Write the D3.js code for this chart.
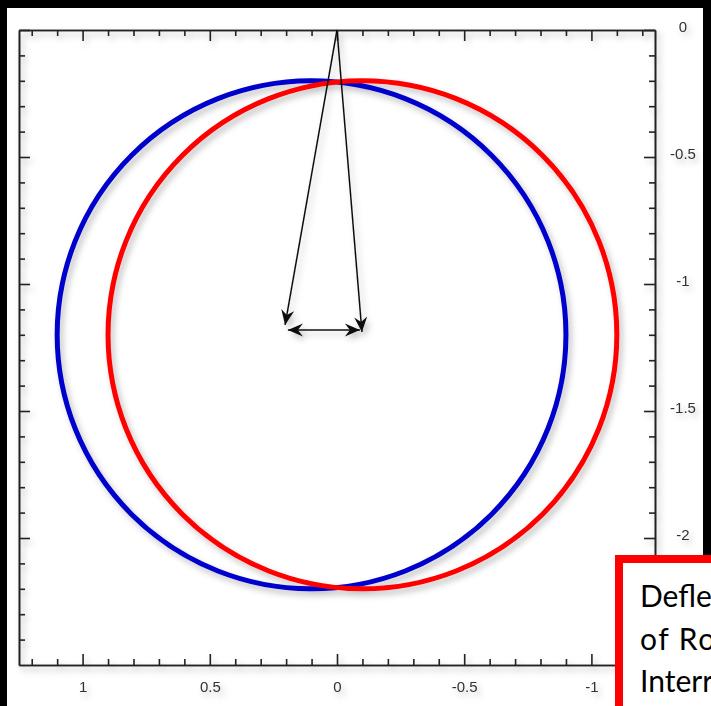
<!DOCTYPE html>
<html>
<head>
<meta charset="utf-8">
<script src="https://cdn.jsdelivr.net/npm/d3@7"></script>
<style>
    html, body { margin: 0; padding: 0; background: #000; }
    svg { display: block; }
</style>
</head>
<body>
<div id="chart"></div>
<script>
// tick labels
const xTickValues = [1, 0.5, 0, -0.5, -1];
const yTickValues = [0, -0.5, -1, -1.5, -2];

// circles: centre x, centre y, radius
const circleNames = ["blue", "red"];
const circleCx = [0.1, -0.1];
const circleCy = [-1.2, -1.2];
const circleR = [1.0, 1.0];

// arrows: start and end points
const arrowX1 = [0, 0, 0.193];
const arrowY1 = [0, 0, -1.181];
const arrowX2 = [0.204, -0.098, -0.09];
const arrowY2 = [-1.161, -1.189, -1.181];
const arrowBoth = [false, false, true];

// note box text, as far as it shows before the page edge
const boxLines = ["Defle", "of Ro", "Interr"];

const width = 711, height = 706;

const svg = d3.select("#chart")
    .append("svg")
    .attr("width", width)
    .attr("height", height);

const defs = svg.append("defs");
const shadow = defs.append("filter")
    .attr("id", "shadow")
    .attr("x", "-10%").attr("y", "-10%")
    .attr("width", "120%").attr("height", "120%");
shadow.append("feDropShadow")
    .attr("dx", 3).attr("dy", 4)
    .attr("stdDeviation", 3)
    .attr("flood-color", "#000")
    .attr("flood-opacity", 0.25);

defs.append("marker")
    .attr("id", "head")
    .attr("viewBox", "-16 -8 18 16")
    .attr("refX", 0).attr("refY", 0)
    .attr("markerWidth", 18).attr("markerHeight", 16)
    .attr("markerUnits", "userSpaceOnUse")
    .attr("orient", "auto-start-reverse")
    .append("path")
    .attr("d", "M0,0 L-15,-6.5 L-10,0 L-15,6.5 Z")
    .attr("fill", "#111");

// background + panel
svg.append("rect").attr("width", width).attr("height", height).attr("fill", "#000");
svg.append("rect")
    .attr("x", 7).attr("y", 8)
    .attr("width", 696).attr("height", 700)
    .attr("fill", "#fff");

const x = d3.scaleLinear().domain([1.25, -1.25]).range([19, 655]);
const y = d3.scaleLinear().domain([0, -2.5]).range([30, 665]);

const xMinor = d3.range(-12, 13).map(d => d / 10).filter(d => Math.abs(d * 2 - Math.round(d * 2)) > 1e-6);
const yMinor = d3.range(-24, 0).map(d => d / 10).filter(d => Math.abs(d * 2 - Math.round(d * 2)) > 1e-6);

const plot = svg.append("g").attr("filter", "url(#shadow)");

function styleAxis(g) {
    g.attr("font-size", null).attr("font-family", null);
    g.select(".domain").attr("stroke", "#222").attr("stroke-width", 1.6);
    g.selectAll(".tick line").attr("stroke", "#222").attr("stroke-width", 1.6);
    g.selectAll("text")
        .attr("fill", "#333")
        .attr("font-family", "'Liberation Sans', Arial, sans-serif")
        .attr("font-size", 15);
}

// bottom axis
plot.append("g")
    .attr("transform", `translate(0,${y(-2.5)})`)
    .call(d3.axisBottom(x).tickValues(xTickValues).tickSizeInner(-11).tickSizeOuter(0)
        .tickPadding(16).tickFormat(d => String(d)))
    .call(styleAxis);
plot.append("g")
    .attr("transform", `translate(0,${y(-2.5)})`)
    .call(d3.axisBottom(x).tickValues(xMinor).tickSizeInner(-6).tickSizeOuter(0).tickFormat(""))
    .call(styleAxis);

// top axis
plot.append("g")
    .attr("transform", `translate(0,${y(0)})`)
    .call(d3.axisTop(x).tickValues(xTickValues).tickSizeInner(-11).tickSizeOuter(0).tickFormat(""))
    .call(styleAxis);
plot.append("g")
    .attr("transform", `translate(0,${y(0)})`)
    .call(d3.axisTop(x).tickValues(xMinor).tickSizeInner(-6).tickSizeOuter(0).tickFormat(""))
    .call(styleAxis);

// left axis
plot.append("g")
    .attr("transform", `translate(${x(1.25)},0)`)
    .call(d3.axisLeft(y).tickValues(yTickValues).tickSizeInner(-11).tickSizeOuter(0).tickFormat(""))
    .call(styleAxis);
plot.append("g")
    .attr("transform", `translate(${x(1.25)},0)`)
    .call(d3.axisLeft(y).tickValues(yMinor).tickSizeInner(-6).tickSizeOuter(0).tickFormat(""))
    .call(styleAxis);

// right axis with labels
const rightAxis = plot.append("g")
    .attr("transform", `translate(${x(-1.25)},0)`)
    .call(d3.axisRight(y).tickValues(yTickValues).tickSizeInner(-11).tickSizeOuter(0)
        .tickPadding(28).tickFormat(d => String(d)))
    .call(styleAxis);
rightAxis.selectAll("text")
    .attr("text-anchor", "middle")
    .attr("dy", "0.12em");
plot.append("g")
    .attr("transform", `translate(${x(-1.25)},0)`)
    .call(d3.axisRight(y).tickValues(yMinor).tickSizeInner(-6).tickSizeOuter(0).tickFormat(""))
    .call(styleAxis);

// circles
const circles = circleNames.map((name, i) => ({
    name, cx: circleCx[i], cy: circleCy[i], r: circleR[i]
}));
const colors = {blue: "#0000cc", red: "#ff0000"};

plot.selectAll("ellipse.ring")
    .data(circles)
    .enter()
    .append("ellipse")
    .attr("class", "ring")
    .attr("cx", d => x(d.cx))
    .attr("cy", d => y(d.cy))
    .attr("rx", d => x(0) - x(d.r))
    .attr("ry", d => y(-d.r) - y(0))
    .attr("fill", "none")
    .attr("stroke", d => colors[d.name])
    .attr("stroke-width", 5);

// arrows
const arrows = arrowX1.map((v, i) => ({
    x1: v, y1: arrowY1[i], x2: arrowX2[i], y2: arrowY2[i], both: arrowBoth[i]
}));

plot.selectAll("line.arrow")
    .data(arrows)
    .enter()
    .append("line")
    .attr("class", "arrow")
    .attr("x1", d => x(d.x1))
    .attr("y1", d => y(d.y1))
    .attr("x2", d => x(d.x2))
    .attr("y2", d => y(d.y2))
    .attr("stroke", "#111")
    .attr("stroke-width", 1.5)
    .attr("marker-end", "url(#head)")
    .attr("marker-start", d => d.both ? "url(#head)" : null);

// red note box (cut off at the page edge)
svg.append("rect")
    .attr("x", 619).attr("y", 559)
    .attr("width", 200).attr("height", 200)
    .attr("fill", "#fff")
    .attr("stroke", "#ff0000")
    .attr("stroke-width", 8);

svg.selectAll("text.note")
    .data(boxLines)
    .enter()
    .append("text")
    .attr("class", "note")
    .attr("x", 640)
    .attr("y", (d, i) => 607 + i * 42.5)
    .attr("fill", "#000")
    .style("font-family", "Lato, 'Open Sans', sans-serif")
    .style("font-size", "30px")
    .style("letter-spacing", (d, i) => i === 1 ? "1.5px" : "0px")
    .text(d => d);
</script>
</body>
</html>
